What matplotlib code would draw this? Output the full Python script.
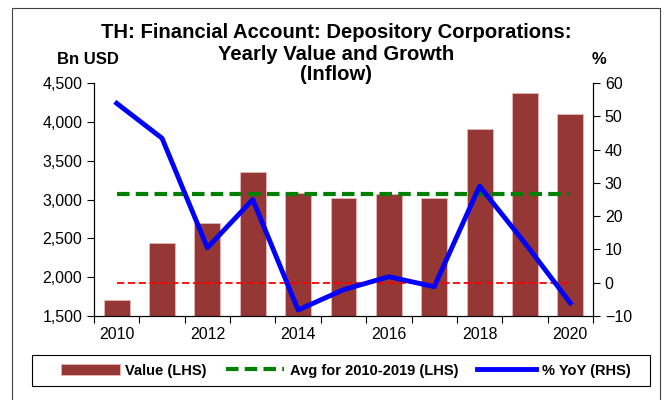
"""Depository corporations inflow: yearly value bars with YoY growth line
"""
import numpy as np
import matplotlib.pyplot as plt
from matplotlib.patches import Rectangle

years = [2010, 2011, 2012, 2013, 2014, 2015, 2016, 2017, 2018, 2019, 2020]
value_bn = [1706, 2440, 2694, 3358, 3080, 3015, 3067, 3024, 3904, 4367, 4101]
yoy_pct = [53.9, 43.4, 10.5, 25.0, -8.2, -2.1, 1.8, -1.2, 29.0, 11.9, -6.1]
avg_label = "Avg for 2010-2019 (LHS)"
title_lines = ["TH: Financial Account: Depository Corporations:",
               "Yearly Value and Growth", "(Inflow)"]

plt.rcParams['font.family'] = ['Liberation Sans', 'DejaVu Sans']

BAR = '#953735'
GREEN = '#008000'
BLUE = '#0000FF'

x = np.arange(len(years))
avg_val = np.mean(value_bn[:10])

fig = plt.figure(figsize=(6.65, 4.0), dpi=100)
ax = fig.add_axes([94 / 665, 84 / 400, (593 - 94) / 665, (316 - 83) / 400])

bars = ax.bar(x, value_bn, width=0.57, color=BAR, edgecolor='#e6b9b8',
              linewidth=0.6, zorder=2)
avg_line, = ax.plot([x[0], x[-1]], [avg_val, avg_val], color=GREEN, lw=3.0,
                    dashes=(3, 1.5), zorder=3)
ax.set_ylim(1500, 4500)
ax.set_yticks(range(1500, 4501, 500))
ax.set_yticklabels([f"{v:,}" for v in range(1500, 4501, 500)])
ax.set_xlim(-0.5, len(years) - 0.5)

# category ticks between bars, labels every other year
ax.set_xticks(np.arange(-0.5, len(years)), labels=[])
ax.set_xticks(x[::2], labels=[str(y) for y in years[::2]], minor=True)
ax.tick_params(axis='x', which='minor', length=0, pad=8, labelsize=11.5)
ax.tick_params(axis='x', which='major', length=5, direction='out')
ax.tick_params(axis='y', labelsize=11.5, length=5, direction='out')
ax.spines['top'].set_visible(False)

ax2 = ax.twinx()
ax2.plot([x[0], x[-1]], [0, 0], color='red', lw=1.3, dashes=(4, 2), zorder=3)
yoy_line, = ax2.plot(x, yoy_pct, color=BLUE, lw=3.5, zorder=4)
ax2.set_ylim(-10, 60)
ax2.set_yticks(range(-10, 61, 10))
ax2.tick_params(axis='y', labelsize=11.5, length=5, direction='out')
ax2.spines['top'].set_visible(False)

for line, ypix in zip(title_lines, [33, 55, 75]):
    fig.text(0.505, 1 - ypix / 400, line, ha='center', va='center',
             fontsize=14.6, fontweight='bold')
fig.text(88 / 665, 1 - 60 / 400, "Bn USD", ha='center', va='center',
         fontsize=12, fontweight='bold')
fig.text(599 / 665, 1 - 60 / 400, "%", ha='center', va='center',
         fontsize=12, fontweight='bold')

# outer chart border and legend box
fig.patches.append(Rectangle((12 / 665, -0.1), (660 - 12) / 665, 1.08,
                             transform=fig.transFigure, fill=False,
                             edgecolor='#404040', lw=0.8))
fig.patches.append(Rectangle((32 / 665, 14 / 400), (650 - 32) / 665, 31 / 400,
                             transform=fig.transFigure, fill=False,
                             edgecolor='black', lw=0.8))

fig.legend([bars, avg_line, yoy_line], ['Value (LHS)', avg_label, '% YoY (RHS)'],
           loc='center', bbox_to_anchor=(0.52, 29.5 / 400), ncol=3,
           frameon=False, handlelength=4.0, handletextpad=0.4,
           columnspacing=1.3, prop={'weight': 'bold', 'size': 10.5})

fig.savefig('out.png', dpi=100)
